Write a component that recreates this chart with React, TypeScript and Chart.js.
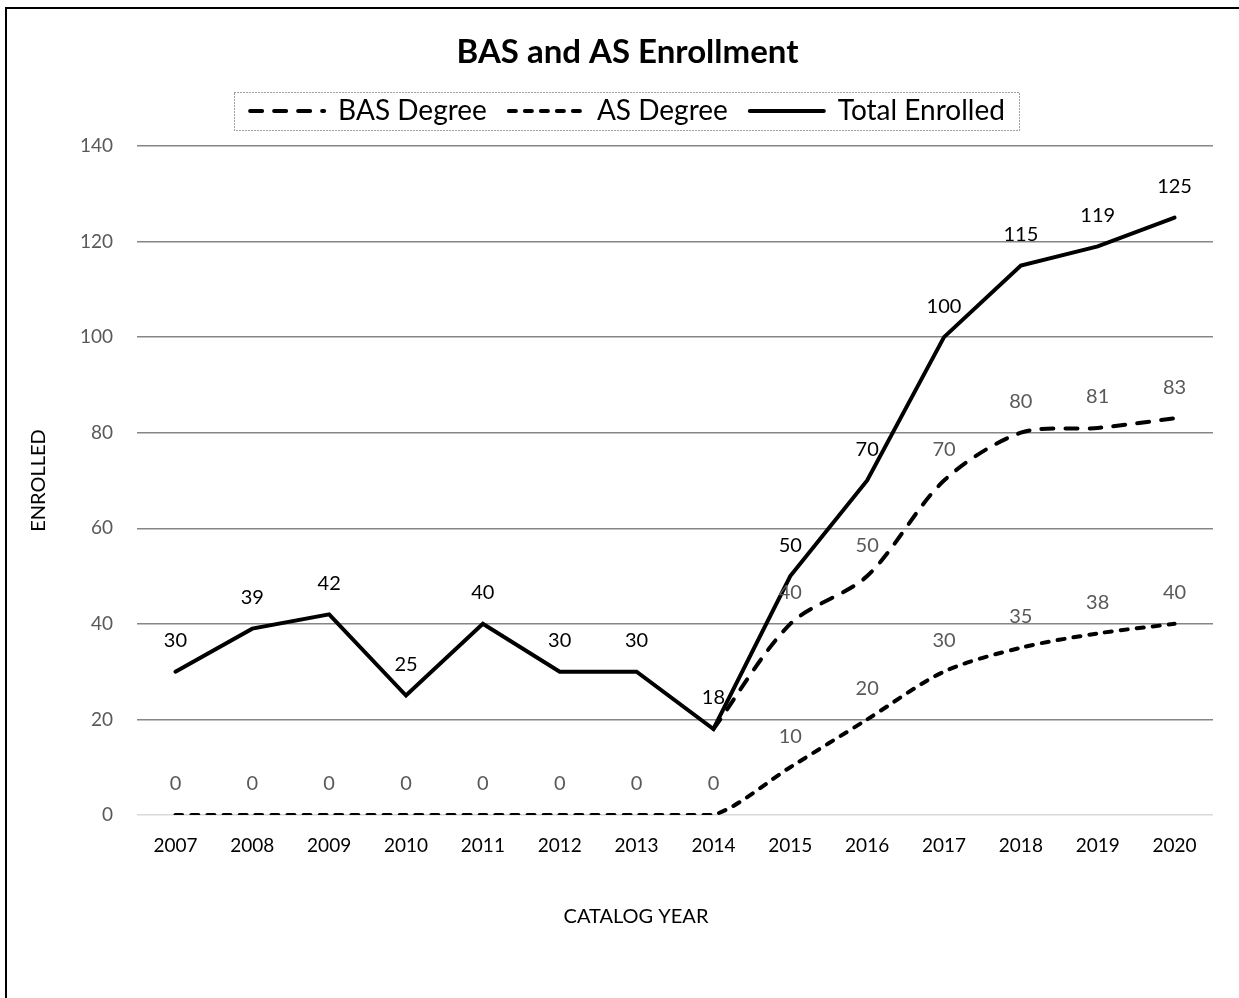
import React, { useEffect, useRef } from "react";
import { Chart, registerables } from "chart.js";

Chart.register(...registerables);

const years = ["2007", "2008", "2009", "2010", "2011", "2012", "2013", "2014", "2015", "2016", "2017", "2018", "2019", "2020"];
const basDegree = [null, null, null, null, null, null, null, 18, 40, 50, 70, 80, 81, 83];
const asDegree = [0, 0, 0, 0, 0, 0, 0, 0, 10, 20, 30, 35, 38, 40];
const totalEnrolled = [30, 39, 42, 25, 40, 30, 30, 18, 50, 70, 100, 115, 119, 125];
const yTicks = [0, 20, 40, 60, 80, 100, 120, 140];
const xTitle = "CATALOG YEAR";

const FONT = "Lato, 'Open Sans', 'Liberation Sans', sans-serif";

const dataLabelPlugin = {
  id: "dataLabels",
  afterDatasetsDraw(chart: any) {
    const ctx = chart.ctx;
    ctx.save();
    ctx.font = `20px ${FONT}`;
    ctx.textAlign = "center";
    ctx.textBaseline = "middle";
    const used: Record<string, boolean> = {};
    for (let di = chart.data.datasets.length - 1; di >= 0; di--) {
      const ds = chart.data.datasets[di];
      const meta = chart.getDatasetMeta(di);
      meta.data.forEach((pt: any, i: number) => {
        const v = ds.data[i];
        if (v === null || v === undefined) return;
        const key = i + ":" + v;
        if (used[key]) return;
        used[key] = true;
        ctx.fillStyle = ds.labelColor || "#000";
        ctx.fillText(String(v), pt.x, pt.y - 31);
      });
    }
    ctx.restore();
  },
};

// legend: extra space below the items + dotted frame
const legendFramePlugin = {
  id: "legendFrame",
  beforeLayout(chart: any) {
    const lg = chart.legend;
    if (lg && !lg._extraPatched) {
      const orig = lg.fit.bind(lg);
      lg.fit = function () {
        orig();
        this.height += 11;
      };
      lg._extraPatched = true;
    }
  },
  afterDraw(chart: any) {
    const lg = chart.legend;
    if (!lg || !lg.legendHitBoxes || !lg.legendHitBoxes.length) return;
    let l = Infinity, r = -Infinity, t = Infinity, b = -Infinity;
    lg.legendHitBoxes.forEach((h: any) => {
      l = Math.min(l, h.left);
      r = Math.max(r, h.left + h.width);
      t = Math.min(t, h.top);
      b = Math.max(b, h.top + h.height);
    });
    const ctx = chart.ctx;
    ctx.save();
    ctx.strokeStyle = "#404040";
    ctx.lineWidth = 1;
    ctx.setLineDash([1, 2]);
    ctx.strokeRect(Math.round(l - 16) + 0.5, Math.round(t - 5) + 0.5, Math.round(r - l + 30), Math.round(b - t + 10));
    ctx.restore();
  },
};

const xTitlePlugin = {
  id: "xTitle",
  afterDraw(chart: any) {
    const ctx = chart.ctx;
    const ca = chart.chartArea;
    ctx.save();
    ctx.font = `20px ${FONT}`;
    ctx.fillStyle = "#000";
    ctx.textAlign = "center";
    ctx.textBaseline = "middle";
    ctx.fillText(xTitle, (ca.left + ca.right) / 2 - 39, ca.bottom + 102);
    ctx.restore();
  },
};

export default function App() {
  const ref = useRef<HTMLCanvasElement>(null);
  useEffect(() => {
    if (!ref.current) return;
    const chart = new Chart(ref.current, {
      type: "line",
      data: {
        labels: years,
        datasets: [
          {
            label: "BAS Degree",
            data: basDegree,
            borderColor: "#000",
            backgroundColor: "#000",
            borderWidth: 4,
            borderDash: [12, 12],
            borderCapStyle: "round",
            tension: 0.3,
            pointRadius: 0,
            fill: false,
            labelColor: "#595959",
          } as any,
          {
            label: "AS Degree",
            data: asDegree,
            borderColor: "#000",
            backgroundColor: "#000",
            borderWidth: 4,
            borderDash: [7, 9],
            borderCapStyle: "round",
            tension: 0.3,
            pointRadius: 0,
            fill: false,
            labelColor: "#595959",
          } as any,
          {
            label: "Total Enrolled",
            data: totalEnrolled,
            borderColor: "#000",
            backgroundColor: "#000",
            borderWidth: 4,
            borderCapStyle: "round",
            borderJoinStyle: "miter",
            tension: 0,
            pointRadius: 0,
            fill: false,
            labelColor: "#000",
          } as any,
        ],
      },
      options: {
        animation: false,
        responsive: false,
        maintainAspectRatio: false,
        layout: { padding: { top: 0, right: 0, bottom: 0, left: 9 } },
        plugins: {
          title: {
            display: true,
            text: "BAS and AS Enrollment",
            color: "#000",
            font: { family: FONT, size: 33, weight: "bold" },
            padding: { top: 22, bottom: 3 },
          },
          legend: {
            display: true,
            position: "top",
            labels: {
              color: "#000",
              font: { family: FONT, size: 28 },
              usePointStyle: true,
              pointStyle: "line",
              pointStyleWidth: 74,
              padding: 22,
              generateLabels(chart: any) {
                return chart.data.datasets.map((ds: any, i: number) => ({
                  text: ds.label,
                  datasetIndex: i,
                  fillStyle: ds.borderColor,
                  strokeStyle: ds.borderColor,
                  fontColor: "#000",
                  lineWidth: ds.borderWidth,
                  lineDash: ds.borderDash || [],
                  lineCap: ds.borderCapStyle || "butt",
                  pointStyle: "line",
                  hidden: false,
                }));
              },
            },
          },
          tooltip: { enabled: false },
        },
        scales: {
          x: {
            offset: true,
            grid: { display: false, drawTicks: false },
            border: { display: false },
            ticks: { color: "#000", font: { family: FONT, size: 19 }, padding: 19, maxRotation: 0 },
            title: { display: false },
            afterFit(scale: any) {
              scale.height = 183;
            },
          },
          y: {
            min: 0,
            max: 140,
            afterBuildTicks(scale: any) {
              scale.ticks = yTicks.map((v) => ({ value: v }));
            },
            grid: {
              drawTicks: false,
              color: (c: any) => (c.tick && c.tick.value === 0 ? "#d9d9d9" : "#868686"),
              lineWidth: 1.5,
            },
            border: { display: false },
            ticks: { color: "#595959", font: { family: FONT, size: 19 }, padding: 24 },
            title: {
              display: true,
              text: "ENROLLED",
              color: "#000",
              font: { family: FONT, size: 20 },
              padding: { top: 11, bottom: 0 },
            },
            afterFit(scale: any) {
              scale.width = 121;
              scale.paddingTop = 137;
            },
          },
          yRight: {
            type: "linear",
            position: "right",
            display: true,
            grid: { display: false, drawTicks: false },
            border: { display: false },
            ticks: { display: false },
            afterFit(scale: any) {
              scale.width = 26;
            },
          },
        },
      },
      plugins: [dataLabelPlugin, legendFramePlugin, xTitlePlugin],
    });
    return () => chart.destroy();
  }, []);

  return (
    <div
      style={{
        position: "absolute",
        left: 5,
        top: 7,
        width: 1234,
        height: 991,
        borderLeft: "2px solid #000",
        borderTop: "2px solid #000",
        boxSizing: "border-box",
        background: "#fff",
      }}
    >
      <canvas ref={ref} width={1232} height={989} style={{ display: "block" }} />
    </div>
  );
}
